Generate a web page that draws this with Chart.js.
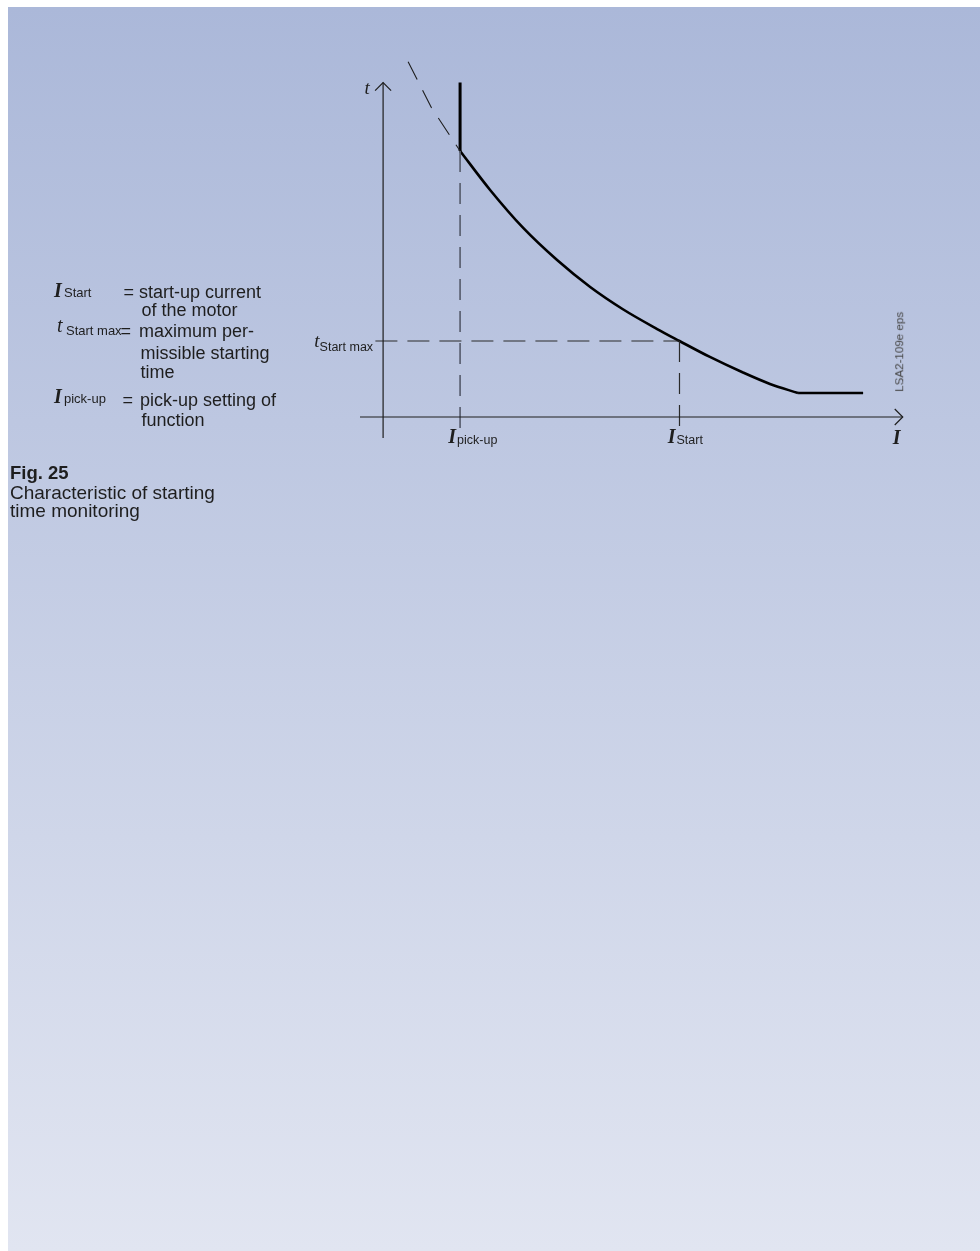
<!DOCTYPE html>
<html><head><meta charset="utf-8">
<script src="https://cdn.jsdelivr.net/npm/chart.js@4.4.1/dist/chart.umd.min.js"></script>
<style>
html,body{margin:0;padding:0;width:980px;height:1251px;overflow:hidden;background:#fff;}
#bg{position:absolute;left:8px;top:7px;width:972px;height:1244px;background:linear-gradient(to bottom,#abb8d9 0%,#e1e5f1 100%);}
#wrap{position:absolute;left:0;top:0;width:980px;height:520px;}
.tx{position:absolute;white-space:nowrap;color:#1e1e1e;line-height:1;}
</style></head>
<body>
<div id="bg"></div>
<div id="wrap"><canvas id="c"></canvas></div>
<div id="texts"></div>
<script>
// ---- data (I in relative current units, t in relative time units) ----
const curveI = [2.0, 2.78, 3.64, 4.52, 5.38, 6.23, 7.12, 7.7, 8.49, 9.35, 10.05, 10.78];
const curveT = [14.0, 11.95, 9.95, 8.26, 6.84, 5.67, 4.63, 4.0, 3.16, 2.34, 1.74, 1.26];
const flatI = [10.78, 12.47];
const flatT = [1.26, 1.26];
const extensionI = [0.65, 1.25, 2.0];
const extensionT = [18.7, 16.3, 14.0];
const I_pickup = 2.0;
const I_start = 7.7;
const t_startMax = 4.0;
const t_pickupTop = 17.6;
const xAxisRange = [-0.6, 13.5];
const yAxisRange = [-1.1, 17.6];
const xTickValues = [I_pickup, I_start];
const xTickSubs = ['pick-up', 'Start'];
const yTickValues = [t_startMax];
const yTickSubs = ['Start max'];
const dropBottom = -0.6;
const hLineStart = -0.2;

const pts = (xs, ys) => xs.map((v, i) => ({x: v, y: ys[i]}));
const line = (data, color, width, dash) => ({data, borderColor: color, borderWidth: width, borderDash: dash || [],
  showLine: true, pointRadius: 0, fill: false, clip: false, borderCapStyle: 'butt', borderJoinStyle: 'miter'});

const datasets = [
  line(pts([0, 0], yAxisRange), '#1e1e1e', 1.2),
  line(pts(xAxisRange, [0, 0]), '#1e1e1e', 1.2),
  line(pts([hLineStart, I_start], [t_startMax, t_startMax]), '#2a2a2a', 1.2, [22, 10]),
  line(pts([I_pickup, I_pickup], [curveT[0], dropBottom]), '#555b6b', 1.6, [21, 11]),
  line(pts([I_start, I_start], [t_startMax, dropBottom]), '#2a2a2a', 1.2, [21, 11]),
  line(pts(extensionI, extensionT), '#1e1e1e', 1.1, [20, 12]),
  line(pts([I_pickup, I_pickup], [t_pickupTop, curveT[0]]), '#000', 3),
  Object.assign(line(pts(curveI, curveT), '#000', 2.6), {cubicInterpolationMode: 'monotone'}),
  line(pts(flatI, flatT), '#000', 2.6)
];

const decoPlugin = {
  id: 'deco',
  afterDatasetsDraw(chart) {
    const {ctx, scales: {x, y}} = chart;
    const x0 = x.getPixelForValue(0), y0 = y.getPixelForValue(0);
    const xEnd = x.getPixelForValue(xAxisRange[1]), yEnd = y.getPixelForValue(yAxisRange[1]);
    ctx.save();
    ctx.strokeStyle = '#1e1e1e'; ctx.lineWidth = 1.2;
    ctx.beginPath();
    ctx.moveTo(x0 - 8, yEnd + 8); ctx.lineTo(x0, yEnd); ctx.lineTo(x0 + 8, yEnd + 8);
    ctx.moveTo(xEnd - 8, y0 - 8); ctx.lineTo(xEnd, y0); ctx.lineTo(xEnd - 8, y0 + 8);
    ctx.stroke();
    ctx.fillStyle = '#1e1e1e';
    ctx.textBaseline = 'alphabetic';
    ctx.font = 'italic 19px "Liberation Serif"'; ctx.textAlign = 'center';
    ctx.fillText('t', x0 - 16, yEnd + 11);
    ctx.font = 'italic bold 20px "Liberation Serif"';
    ctx.fillText('I', xEnd - 6, y0 + 27);
    xTickValues.forEach((v, i) => {
      const px = x.getPixelForValue(v);
      ctx.font = 'italic bold 20px "Liberation Serif"'; ctx.textAlign = 'right';
      ctx.fillText('I', px - 4, y0 + 26);
      ctx.font = '12.5px "Liberation Sans"'; ctx.textAlign = 'left';
      ctx.fillText(xTickSubs[i], px - 3, y0 + 27);
    });
    yTickValues.forEach((v, i) => {
      const py = y.getPixelForValue(v);
      ctx.font = '12.5px "Liberation Sans"'; ctx.textAlign = 'right';
      ctx.fillText(yTickSubs[i], x0 - 10, py + 10);
      const w = ctx.measureText(yTickSubs[i]).width;
      ctx.font = 'italic 19px "Liberation Serif"';
      ctx.fillText('t', x0 - 10 - w, py + 6);
    });
    ctx.restore();
  }
};

new Chart(document.getElementById('c'), {
  type: 'scatter',
  data: {datasets},
  options: {
    animation: false, responsive: true, maintainAspectRatio: false,
    layout: {padding: {left: 360, right: 77.25, top: 56, bottom: 80.2}},
    scales: {
      x: {type: 'linear', min: -0.6, max: 13.5, display: false},
      y: {type: 'linear', min: -1.2, max: 19, display: false}
    },
    plugins: {legend: {display: false}, tooltip: {enabled: false}}
  },
  plugins: [decoPlugin]
});

// ---- legend / caption text ----
const host = document.getElementById('texts');
function put(text, x, baseline, size, opts) {
  opts = opts || {};
  const serif = !!opts.serif;
  const asc = serif ? 0.8375 : 0.8465;
  const d = document.createElement('div');
  d.className = 'tx';
  d.textContent = text;
  d.style.left = x + 'px';
  d.style.top = (baseline - asc * size) + 'px';
  d.style.fontSize = size + 'px';
  d.style.fontFamily = serif ? '"Liberation Serif", serif' : '"Liberation Sans", Arial, sans-serif';
  if (serif) d.style.fontStyle = 'italic';
  if (opts.bold) d.style.fontWeight = 'bold';
  if (opts.color) d.style.color = opts.color;
  host.appendChild(d);
  return d;
}
put('I', 54, 297, 20, {serif: true, bold: true});
put('Start', 64, 297, 13);
put('=', 123.5, 298, 18);
put('start-up current', 139, 298, 18);
put('of the motor', 141.5, 316.5, 18);
put('t', 57, 332, 20, {serif: true});
put('Start max', 66, 335.5, 13);
put('=', 120.5, 337, 18);
put('maximum per-', 139, 337, 18);
put('missible starting', 140.5, 359, 18);
put('time', 140.5, 378.5, 18);
put('I', 54, 403, 20, {serif: true, bold: true});
put('pick-up', 64, 403, 13);
put('=', 122.5, 406.5, 18);
put('pick-up setting of', 140, 406.5, 18);
put('function', 141.5, 426.5, 18);
put('Fig. 25', 10, 480, 18.5, {bold: true});
put('Characteristic of starting', 10, 499, 19);
put('time monitoring', 10, 517, 19);
const code = put('LSA2-109e eps', 0, 0, 11.6, {color: '#444'});
code.style.left = '859px'; code.style.top = '346px';
code.style.width = '80px'; code.style.textAlign = 'center';
code.style.transformOrigin = '50% 50%';
code.style.transform = 'rotate(-90deg)';
</script>
</body></html>
